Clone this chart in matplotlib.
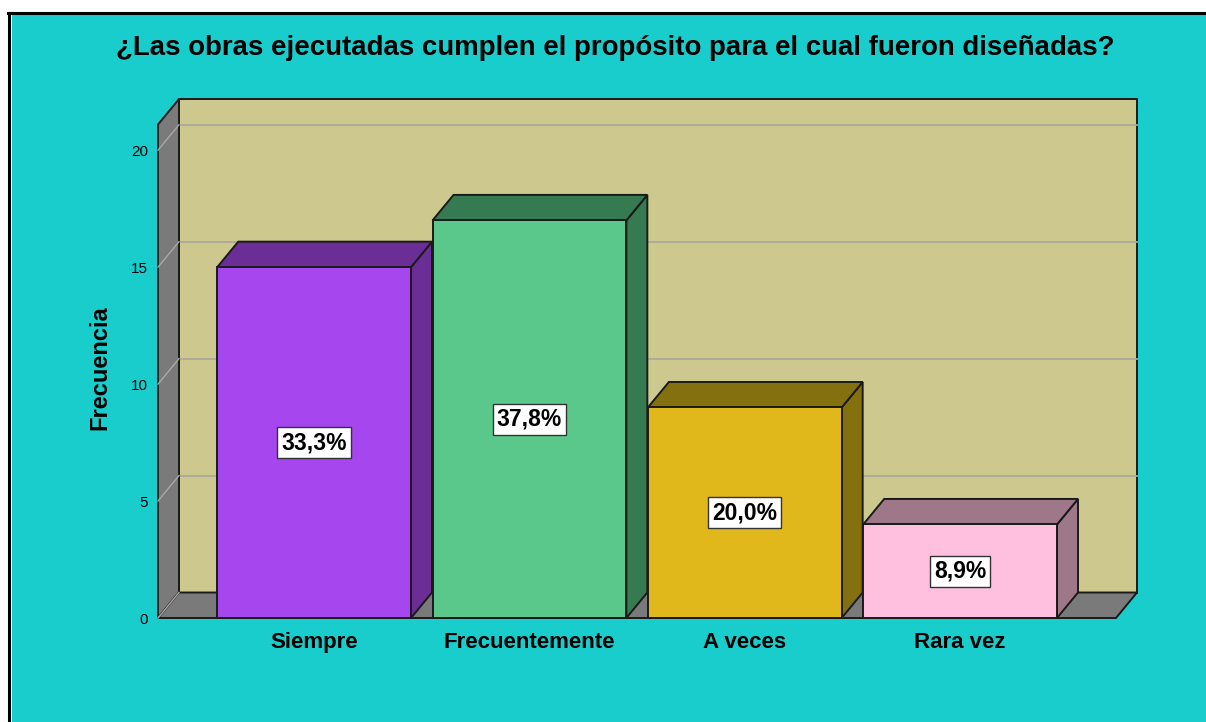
import matplotlib
matplotlib.use("Agg")
import matplotlib.pyplot as plt
from matplotlib.patches import Polygon, Rectangle
from matplotlib.lines import Line2D

plt.rcParams['font.family'] = ['Liberation Sans', 'DejaVu Sans']

# data
categories = ["Siempre", "Frecuentemente", "A veces", "Rara vez"]
freq = [15, 17, 9, 4]
front_colors = ["#A646EE", "#5AC88A", "#E0B81C", "#FFC0E0"]
dark_colors = ["#6A2E96", "#357A50", "#85700F", "#9E7788"]
yticks = [0, 5, 10, 15, 20]
title = "¿Las obras ejecutadas cumplen el propósito para el cual fueron diseñadas?"

total = sum(freq)
pcts = [100.0 * f / total for f in freq]

W, H = 1206, 722
fig = plt.figure(figsize=(W / 100, H / 100), dpi=100)
fig.patch.set_facecolor("white")

# cyan panel with black frame on top/left
bg = "#1ACDCD"
fig.patches.append(Rectangle((12 / W, 0), 1, 1 - 15 / H, transform=fig.transFigure,
                             facecolor=bg, edgecolor="none", zorder=-5))
fig.lines.append(Line2D([8 / W, 1], [1 - 13 / H, 1 - 13 / H], transform=fig.transFigure,
                        color="black", lw=2.2, zorder=-4))
fig.lines.append(Line2D([9 / W, 9 / W], [0, 1 - 13 / H], transform=fig.transFigure,
                        color="black", lw=2.2, zorder=-4))

# axes in plot box
ax = fig.add_axes([158 / W, 1 - 618 / H, 979 / W, 519 / H])
ax.set_zorder(2)
ax.set_facecolor("none")
for s in ax.spines.values():
    s.set_visible(False)

x0 = -0.725          # floor front-left
xr = 3.724           # floor front-right
dx = 0.0975          # depth offset (x)
dy = 1.09            # depth offset (y)
wall_h = 21.1
bar_w = 0.9

ax.set_xlim(x0, xr + dx)
ax.set_ylim(0, wall_h + dy)

edge = dict(edgecolor="#1a1a1a", linewidth=1.4, joinstyle="miter")
wall_col = "#CDC98E"
grey = "#7A7A7A"

# back wall
ax.add_patch(Polygon([(x0 + dx, dy), (xr + dx, dy), (xr + dx, wall_h + dy), (x0 + dx, wall_h + dy)],
                     closed=True, facecolor=wall_col, zorder=1, clip_on=False, **edge))
# side wall
ax.add_patch(Polygon([(x0, 0), (x0 + dx, dy), (x0 + dx, wall_h + dy), (x0, wall_h)],
                     closed=True, facecolor=grey, zorder=2, clip_on=False, **edge))
# floor
ax.add_patch(Polygon([(x0, 0), (xr, 0), (xr + dx, dy), (x0 + dx, dy)],
                     closed=True, facecolor=grey, zorder=2, clip_on=False, **edge))

# grid lines
for v in yticks[1:]:
    ax.plot([x0 + dx, xr + dx], [v + dy, v + dy], color="#ABA99A", lw=1.3, zorder=1.5, clip_on=False)
    ax.plot([x0, x0 + dx], [v, v + dy], color="#A9A9A9", lw=1.0, zorder=2.5, clip_on=False)
ax.plot([x0, x0 + dx], [0, dy], color="#A9A9A9", lw=1.0, zorder=2.5, clip_on=False)

# bars
for i, (v, fc, dc) in enumerate(zip(freq, front_colors, dark_colors)):
    l, r = i - bar_w / 2, i + bar_w / 2
    z = 3 + i
    ax.add_patch(Polygon([(r, 0), (r + dx, dy), (r + dx, v + dy), (r, v)],
                         closed=True, facecolor=dc, zorder=z, clip_on=False, **edge))
    ax.add_patch(Polygon([(l, v), (r, v), (r + dx, v + dy), (l + dx, v + dy)],
                         closed=True, facecolor=dc, zorder=z, clip_on=False, **edge))
    ax.add_patch(Rectangle((l, 0), bar_w, v, facecolor=fc, zorder=z, clip_on=False, **edge))
    ax.text(i, v / 2, f"{pcts[i]:.1f}%".replace(".", ","), ha="center", va="center",
            fontsize=16.5, fontweight="bold", zorder=z + 0.5,
            bbox=dict(boxstyle="square,pad=0.18", facecolor="white", edgecolor="#333333", lw=1.0))

# ticks
ax.set_yticks(yticks)
ax.set_yticklabels([str(t) for t in yticks], fontsize=11)
ax.tick_params(axis="y", length=0, pad=7)
ax.set_xticks(range(len(categories)))
ax.set_xticklabels(categories, fontsize=16, fontweight="bold")
ax.tick_params(axis="x", length=0, pad=10)

ax.set_ylabel("Frecuencia", fontsize=17, fontweight="bold")
ax.yaxis.set_label_coords(-0.048, 0.482)

fig.text(615 / W, 1 - 48 / H, title, ha="center", va="center", fontsize=19.9, fontweight="bold")

fig.savefig("out.png", dpi=100, facecolor=fig.get_facecolor())
